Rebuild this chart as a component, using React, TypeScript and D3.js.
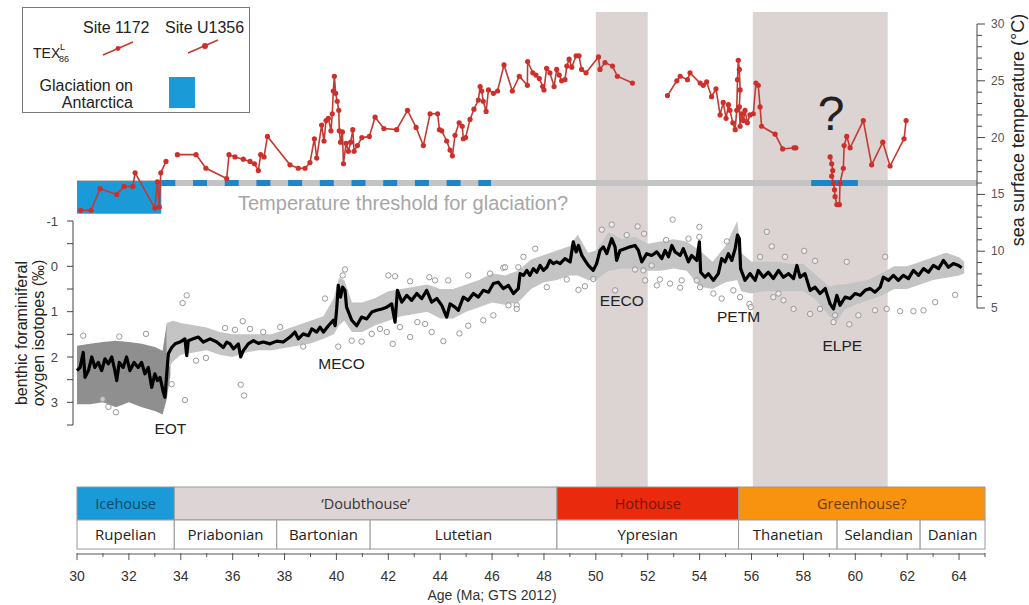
import React from 'react';
import * as d3 from 'd3';

const W = 1029;
const H = 605;
const FONT = '"Liberation Sans", Arial, sans-serif';

// ---- SST (TEX86 L) segments: [age Ma, °C]
const sstSeg1: [number, number][] = [
  [30.14, 13.6], [30.54, 13.6], [30.89, 15.5], [31.53, 15.0], [31.81, 15.7], [32.15, 15.7],
  [32.24, 16.9], [33.0, 13.8], [33.1, 16.1], [33.17, 13.9], [33.23, 16.9], [33.43, 17.9],
];
const sstSeg2: [number, number][] = [
  [33.87, 18.5], [34.59, 18.5], [34.97, 17.3], [35.77, 16.4], [35.86, 18.5], [36.09, 18.3],
  [36.41, 18.1], [36.67, 17.9], [36.84, 17.7], [36.99, 17.1], [37.08, 18.5], [37.21, 18.3],
  [37.34, 20.1], [38.21, 17.6], [38.53, 17.3], [38.79, 17.3], [38.98, 17.8], [39.15, 19.9],
  [39.24, 18.2], [39.43, 21.1], [39.52, 19.7], [39.6, 21.5], [39.69, 21.7], [39.79, 20.6],
  [39.84, 22.1], [39.88, 24.1], [39.92, 25.4], [39.97, 23.9], [40.03, 23.2], [40.09, 22.4],
  [40.11, 20.6], [40.16, 19.6], [40.23, 20.5], [40.27, 17.7], [40.37, 19.5], [40.46, 18.8],
  [40.55, 19.6], [40.63, 20.7], [40.68, 18.8], [40.81, 19.3], [40.98, 20.0], [41.27, 20.1],
  [41.49, 21.8], [41.83, 20.8], [42.32, 20.7], [42.74, 22.4], [43.07, 20.9], [43.35, 19.3],
  [43.61, 22.1], [43.9, 22.1], [43.97, 20.7], [44.06, 20.6], [44.25, 19.7], [44.38, 18.9],
  [44.47, 18.4], [44.57, 20.2], [44.73, 21.3], [44.85, 21.0], [44.89, 19.9], [44.98, 20.0],
  [45.15, 21.6], [45.3, 22.5], [45.47, 23.3], [45.54, 24.5], [45.6, 24.1], [45.66, 23.2],
  [45.77, 22.3], [45.86, 24.2], [46.05, 23.9], [46.21, 24.1], [46.46, 26.4], [46.78, 24.1],
  [47.05, 25.4], [47.36, 24.6], [47.37, 26.7], [47.57, 25.7], [47.69, 25.5], [47.82, 25.2],
  [47.95, 24.5], [48.0, 24.2], [48.1, 26.1], [48.23, 25.7], [48.39, 24.5], [48.49, 26.0],
  [48.59, 25.5], [48.68, 25.0], [48.81, 25.1], [48.88, 26.3], [48.97, 26.9], [49.07, 26.2],
  [49.24, 27.2], [49.35, 27.2], [49.45, 26.0], [49.62, 25.7], [50.1, 27.1], [50.16, 26.0],
  [50.35, 26.6], [50.64, 26.3], [50.83, 25.4], [51.41, 24.8],
];
const sstSeg3: [number, number][] = [
  [52.76, 23.7], [53.12, 25.0], [53.25, 25.4], [53.53, 25.1], [53.63, 25.7], [54.02, 24.8],
  [54.14, 24.6], [54.27, 24.9], [54.46, 23.6], [54.63, 24.3], [54.79, 22.0], [54.91, 23.1],
  [55.02, 21.7], [55.11, 22.9], [55.17, 22.4], [55.28, 21.3], [55.37, 20.7], [55.43, 22.4],
  [55.46, 25.1], [55.49, 26.8], [55.53, 26.0], [55.56, 24.2], [55.53, 22.7], [55.56, 21.0],
  [55.62, 22.1], [55.69, 21.5], [55.75, 22.4], [55.84, 21.3], [55.94, 22.0], [56.07, 22.1],
  [56.17, 24.8], [56.26, 24.6], [56.33, 22.7], [56.39, 21.0], [56.91, 20.3], [57.2, 19.0],
  [57.64, 19.1], [57.71, 19.1],
];
const sstSeg4: [number, number][] = [
  [59.03, 18.3], [59.09, 17.7], [59.13, 17.1], [59.09, 16.6], [59.16, 16.0], [59.2, 15.4],
  [59.22, 14.8], [59.29, 14.1], [59.39, 14.1], [59.41, 16.0], [59.54, 17.3], [59.57, 19.3],
  [59.67, 20.1], [59.8, 19.1], [60.31, 21.5], [60.63, 17.6], [61.06, 19.6], [61.34, 17.5],
  [61.88, 19.9], [61.96, 21.5],
];

// ---- benthic d18O smoothed record: [age, ‰]
const d18oLine: [number, number][] = [
  [30.0, 2.3], [30.12, 2.23], [30.24, 1.9], [30.31, 2.45], [30.44, 2.3], [30.57, 2.0], [30.69, 2.23],
  [30.82, 2.12], [30.95, 2.3], [31.08, 2.04], [31.21, 2.15], [31.34, 2.0], [31.46, 2.3], [31.53, 2.52],
  [31.63, 2.12], [31.78, 2.23], [31.91, 2.0], [32.04, 2.3], [32.2, 2.12], [32.36, 2.23], [32.49, 2.12],
  [32.62, 2.37], [32.75, 2.23], [32.88, 2.67], [33.0, 2.37], [33.1, 2.52], [33.2, 2.45], [33.33, 2.78],
  [33.39, 2.89], [33.46, 2.37], [33.52, 1.93], [33.65, 1.79], [33.78, 1.71], [33.97, 1.67], [34.16, 1.6],
  [34.23, 1.97], [34.29, 1.64], [34.48, 1.6], [34.68, 1.56], [34.87, 1.67], [35.13, 1.6], [35.39, 1.67],
  [35.64, 1.79], [35.77, 1.67], [35.9, 1.71], [36.03, 1.82], [36.22, 1.71], [36.31, 2.0], [36.41, 1.86],
  [36.6, 1.71], [36.8, 1.64], [36.99, 1.7], [37.18, 1.67], [37.44, 1.71], [37.7, 1.65], [37.95, 1.67],
  [38.21, 1.56], [38.4, 1.45], [38.53, 1.6], [38.72, 1.49], [38.92, 1.53], [39.05, 1.38], [39.24, 1.45],
  [39.37, 1.34], [39.5, 1.45], [39.69, 1.31], [39.88, 1.19], [39.95, 1.31], [40.01, 0.94], [40.07, 0.42],
  [40.16, 0.68], [40.24, 0.46], [40.33, 0.53], [40.39, 0.9], [40.59, 1.19], [40.78, 1.31], [40.97, 1.12],
  [41.17, 1.16], [41.36, 1.01], [41.55, 0.97], [41.75, 0.94], [41.94, 0.9], [42.13, 0.83], [42.26, 1.23],
  [42.35, 0.53], [42.52, 0.79], [42.71, 0.64], [42.9, 0.75], [43.1, 0.6], [43.29, 0.71], [43.48, 0.53],
  [43.67, 0.79], [43.87, 0.71], [44.06, 0.86], [44.25, 1.12], [44.38, 0.83], [44.57, 0.9], [44.7, 0.97],
  [44.89, 0.68], [45.08, 0.75], [45.28, 0.6], [45.47, 0.68], [45.66, 0.53], [45.86, 0.57], [46.05, 0.38],
  [46.24, 0.35], [46.43, 0.49], [46.63, 0.42], [46.82, 0.6], [47.01, 0.49], [47.08, 0.16], [47.21, 0.2],
  [47.34, 0.09], [47.46, 0.2], [47.59, 0.05], [47.72, 0.13], [47.85, -0.02], [47.98, 0.09], [48.11, 0.02],
  [48.23, -0.13], [48.36, -0.06], [48.49, -0.1], [48.62, -0.06], [48.81, -0.17], [49.01, -0.1],
  [49.13, -0.54], [49.24, -0.32], [49.33, -0.46], [49.46, -0.24], [49.58, -0.13], [49.71, -0.02],
  [49.9, 0.09], [50.03, -0.06], [50.16, -0.35], [50.29, -0.43], [50.42, -0.28], [50.61, -0.61],
  [50.74, -0.43], [50.8, -0.13], [50.93, -0.35], [51.12, -0.39], [51.32, -0.43], [51.51, -0.46],
  [51.64, -0.35], [51.77, -0.1], [51.96, -0.28], [52.15, -0.24], [52.35, -0.32], [52.54, -0.17],
  [52.67, -0.35], [52.8, -0.21], [52.93, -0.46], [53.05, -0.32], [53.25, -0.24], [53.37, -0.39],
  [53.57, -0.1], [53.69, -0.24], [53.89, -0.13], [53.99, -0.54], [54.04, 0.13], [54.21, 0.24],
  [54.34, 0.16], [54.53, 0.31], [54.72, 0.16], [54.85, -0.17], [54.98, -0.1], [55.11, -0.28],
  [55.24, -0.13], [55.37, -0.39], [55.46, -0.69], [55.53, -0.61], [55.58, 0.05], [55.75, 0.31],
  [55.94, 0.16], [56.14, 0.31], [56.26, 0.09], [56.46, 0.24], [56.65, 0.13], [56.84, 0.27], [57.04, 0.09],
  [57.23, 0.24], [57.43, 0.16], [57.62, 0.27], [57.75, -0.02], [57.87, 0.24], [58.06, 0.16], [58.26, 0.53],
  [58.45, 0.46], [58.64, 0.6], [58.84, 0.49], [59.03, 0.83], [59.16, 0.94], [59.29, 0.64], [59.41, 0.86],
  [59.61, 0.68], [59.8, 0.71], [59.99, 0.6], [60.19, 0.64], [60.38, 0.53], [60.57, 0.49], [60.76, 0.57],
  [60.96, 0.46], [61.08, 0.24], [61.28, 0.31], [61.47, 0.2], [61.66, 0.31], [61.85, 0.2], [62.05, 0.27],
  [62.24, 0.09], [62.44, 0.2], [62.63, 0.05], [62.82, 0.13], [63.01, -0.02], [63.21, 0.05], [63.4, -0.13],
  [63.59, 0.02], [63.78, -0.06], [63.98, -0.02], [64.1, 0.03],
];

// dense raw-data cloud in the Oligocene: [age, top ‰, bottom ‰]
const d18oCloudDense: [number, number, number][] = [
  [30.0, 1.75, 3.04], [30.5, 1.71, 3.04], [31.0, 1.67, 3.0], [31.5, 1.64, 3.11], [32.0, 1.67, 3.0],
  [32.5, 1.71, 3.11], [33.0, 1.78, 3.19], [33.3, 1.86, 3.27], [33.45, 1.3, 2.95], [33.6, 1.25, 2.4],
];
// spread of raw data around the smoothed record: [age, top ‰, bottom ‰]
const d18oCloud: [number, number, number][] = [
  [33.45, 1.25, 2.3], [33.7, 1.2, 2.1], [34.0, 1.25, 1.95], [34.5, 1.3, 1.9], [35.0, 1.35, 1.85],
  [35.5, 1.45, 1.95], [36.0, 1.5, 2.0], [36.5, 1.5, 1.9], [37.0, 1.5, 1.85], [37.5, 1.5, 1.85],
  [38.0, 1.4, 1.8], [38.5, 1.3, 1.75], [39.0, 1.2, 1.7], [39.5, 1.1, 1.6], [39.9, 0.7, 1.5],
  [40.1, 0.25, 1.3], [40.3, 0.3, 1.2], [40.6, 0.8, 1.45], [41.0, 0.8, 1.45], [41.5, 0.7, 1.3],
  [42.0, 0.55, 1.2], [42.5, 0.5, 1.1], [43.0, 0.45, 1.05], [43.5, 0.4, 1.0], [44.0, 0.5, 1.15],
  [44.5, 0.5, 1.15], [45.0, 0.4, 1.0], [45.5, 0.3, 0.9], [46.0, 0.15, 0.8], [46.5, 0.2, 0.85],
  [47.0, 0.1, 0.8], [47.5, -0.15, 0.5], [48.0, -0.25, 0.35], [48.5, -0.35, 0.3], [49.0, -0.45, 0.2],
  [49.3, -0.7, 0.2], [49.7, -0.3, 0.3], [50.0, -0.35, 0.3], [50.5, -0.75, 0.1], [51.0, -0.6, 0.05],
  [51.5, -0.65, 0.05], [52.0, -0.5, 0.1], [52.5, -0.55, 0.1], [53.0, -0.6, 0.05], [53.5, -0.55, 0.1],
  [54.0, -0.35, 0.45], [54.5, -0.1, 0.5], [55.0, -0.45, 0.35], [55.45, -1.0, 0.3], [55.6, -0.3, 0.55],
  [56.0, -0.1, 0.6], [56.5, -0.1, 0.55], [57.0, -0.1, 0.55], [57.5, -0.05, 0.55], [58.0, -0.05, 0.55],
  [58.5, 0.2, 0.75], [59.0, 0.45, 1.1], [59.3, 0.4, 1.2], [59.6, 0.4, 0.95], [60.0, 0.35, 0.85],
  [60.5, 0.3, 0.75], [61.0, 0.15, 0.65], [61.5, 0.0, 0.5], [62.0, 0.0, 0.5], [62.5, -0.1, 0.4],
  [63.0, -0.2, 0.3], [63.5, -0.3, 0.25], [64.0, -0.2, 0.2], [64.2, -0.1, 0.15],
];
// scattered individual raw measurements: [age, ‰]
const d18oOutliers: [number, number][] = [
  [30.24, 1.53], [31.63, 1.55], [32.66, 1.49], [34.23, 0.64], [34.07, 0.81], [36.39, 1.21], [36.31, 2.61],
  [36.44, 2.85], [34.16, 2.95], [33.65, 2.6], [31.5, 3.22], [30.99, 2.93], [31.21, 3.1], [34.97, 2.02],
  [34.59, 2.08], [35.71, 1.36], [36.09, 1.4], [36.67, 1.38], [37.18, 1.45], [37.83, 1.34], [38.72, 1.77],
  [39.56, 0.71], [40.33, 0.07], [40.24, 0.2], [40.07, 1.77], [40.59, 1.64], [40.97, 1.66], [42.0, 0.2],
  [42.26, 0.22], [42.84, 0.33], [43.58, 0.24], [43.8, 0.31], [44.31, 0.31], [45.08, 0.2], [45.92, 0.16],
  [46.43, 0.03], [47.01, 0.02], [42.17, 1.71], [42.84, 1.56], [43.42, 1.27], [43.67, 1.45], [44.12, 1.65],
  [44.74, 1.48], [45.08, 1.31], [45.66, 1.19], [46.05, 1.08], [46.95, 0.86], [46.63, 0.86], [42.45, 1.34],
  [43.12, 1.23], [41.36, 1.49], [41.68, 1.38], [41.94, 1.45], [46.5, 0.02], [46.95, 0.94], [47.66, -0.39],
  [47.21, -0.21], [48.11, 0.46], [48.88, 0.29], [49.33, 0.52], [49.58, 0.44], [49.9, 0.28], [50.61, -0.92],
  [50.23, -0.81], [50.74, 0.53], [51.61, -0.88], [51.19, -0.69], [51.86, -0.72], [51.51, 0.07], [51.9, 0.31],
  [52.96, -1.03], [52.71, -0.58], [52.47, 0.29], [52.86, 0.38], [53.25, 0.47], [53.57, -0.61], [53.99, -0.87],
  [53.99, -0.65], [53.89, 0.31], [54.53, 0.6], [54.85, 0.71], [55.05, -0.55], [55.92, 0.83], [55.97, 0.9],
  [56.59, -0.76], [56.78, -0.44], [56.33, -0.21], [57.29, -0.21], [58.03, -0.34], [58.45, -0.12],
  [59.67, -0.1], [61.15, -0.21], [58.26, 1.05], [59.16, 1.23], [59.77, 1.28], [60.12, 1.08], [60.76, 0.97],
  [61.21, 0.94], [61.73, 0.99], [62.24, 0.99], [62.63, 0.97], [63.08, 0.79], [63.85, 0.63], [57.62, 0.94],
  [57.23, 0.75], [57.04, 0.6], [55.3, 0.53], [55.56, 0.68], [56.84, 0.68], [58.64, 0.94], [59.22, 1.08],
  [52.35, 0.42], [52.15, -0.02], [51.83, 0.09], [54.02, 0.46], [53.31, 0.31],
];

// ---- intervals
const shadedIntervals: [number, number][] = [[50.0, 52.0], [56.05, 61.25]];
const glaciationBox = { start: 30, end: 33.25, top: 16, bottom: 13.3 };
const glaciationDashed: [number, number] = [33.25, 45.96];
const glaciationSolid: [number, number] = [58.3, 60.1];
const thresholdTemp = 16;

const climateStates = [
  { name: 'Icehouse', start: 30, end: 33.75, fill: '#1a9ad7', text: '#0d4a6e' },
  { name: '\u2018Doubthouse\u2019', start: 33.75, end: 48.5, fill: '#ddd5d5', text: '#333' },
  { name: 'Hothouse', start: 48.5, end: 55.5, fill: '#ea2a0c', text: '#7a1405' },
  { name: 'Greenhouse?', start: 55.5, end: 65, fill: '#f7930f', text: '#6e3a05' },
];
const stages = [
  { name: 'Rupelian', start: 30, end: 33.75 },
  { name: 'Priabonian', start: 33.75, end: 37.7 },
  { name: 'Bartonian', start: 37.7, end: 41.3 },
  { name: 'Lutetian', start: 41.3, end: 48.5 },
  { name: 'Ypresian', start: 48.5, end: 55.5 },
  { name: 'Thanetian', start: 55.5, end: 59.3 },
  { name: 'Selandian', start: 59.3, end: 62.5 },
  { name: 'Danian', start: 62.5, end: 65 },
];
const events = [
  { name: 'EOT', age: 33.6, d: 3.7 },
  { name: 'MECO', age: 40.2, d: 2.27 },
  { name: 'EECO', age: 51.0, d: 0.88 },
  { name: 'PETM', age: 55.5, d: 1.22 },
  { name: 'ELPE', age: 59.5, d: 1.87 },
];
const ageTicks = d3.range(30, 65, 2);
const ageMinor = d3.range(31, 66, 2);
const d18oTicks = [-1, 0, 1, 2, 3];
const d18oMinor = d3.range(-1, 3.51, 0.5);
const sstTicks = [5, 10, 15, 20, 25, 30];
const sstMinor = d3.range(5, 31, 1);

export default function App() {
  const x = d3.scaleLinear().domain([30, 65]).range([77, 985]);
  const yT = d3.scaleLinear().domain([5, 30]).range([308, 24]);
  const yO = d3.scaleLinear().domain([-1, 3.5]).range([221, 425]);

  const sstLine = d3.line<[number, number]>().x(d => x(d[0])).y(d => yT(d[1]));
  const oLine = d3.line<[number, number]>().x(d => x(d[0])).y(d => yO(d[1]));
  const oArea = d3.area<[number, number, number]>().x(d => x(d[0])).y0(d => yO(d[2])).y1(d => yO(d[1]));

  const tsTop = 487, tsMid = 520, tsBot = 549, axisY = 554;
  const yThr = yT(thresholdTemp);

  return (
    <svg width={W} height={H} style={{ position: 'absolute', left: 0, top: 0, fontFamily: FONT }}>
      <rect x={0} y={0} width={W} height={H} fill="#fff" />
      {/* shaded event intervals */}
      {shadedIntervals.map((s, i) => (
        <rect key={i} x={x(s[0])} y={12} width={x(s[1]) - x(s[0])} height={tsTop - 12} fill="#dcd3d3" />
      ))}

      {/* threshold line + glaciation */}
      <line x1={x(30)} x2={977} y1={yThr} y2={yThr} stroke="#c4c4c4" strokeWidth={6} />
      <rect x={x(glaciationBox.start)} y={yT(glaciationBox.top) - 2} width={x(glaciationBox.end) - x(glaciationBox.start)}
        height={yT(glaciationBox.bottom) - yT(glaciationBox.top) + 2} fill="#1a9bd7" />
      <line x1={x(glaciationDashed[0])} x2={x(glaciationDashed[1])} y1={yThr} y2={yThr} stroke="#2085c6" strokeWidth={6}
        strokeDasharray="14 17.7" />
      <line x1={x(glaciationSolid[0])} x2={x(glaciationSolid[1])} y1={yThr} y2={yThr} stroke="#2085c6" strokeWidth={6} />
      <text x={238} y={210} fontSize={20} fill="#a6a6a6">Temperature threshold for glaciation?</text>

      {/* SST */}
      {[sstSeg1, sstSeg2, sstSeg3, sstSeg4].map((seg, i) => (
        <g key={i}>
          <path d={sstLine(seg) || ''} fill="none" stroke="#c23b33" strokeWidth={1.6} />
          {seg.map((p, j) => <circle key={j} cx={x(p[0])} cy={yT(p[1])} r={2.6} fill="#cf2f2a" />)}
        </g>
      ))}
      <text x={831} y={130} fontSize={48} textAnchor="middle" fill="#222">?</text>

      {/* d18O */}
      <path d={oArea(d18oCloudDense) || ''} fill="#8f8f8f" />
      <path d={oArea(d18oCloud) || ''} fill="#c4c4c4" />
      {d18oOutliers.map((p, i) => (
        <circle key={i} cx={x(p[0])} cy={yO(p[1])} r={2.7} fill="#fff" fillOpacity={0.5} stroke="#999" strokeWidth={1} />
      ))}
      <path d={oLine(d18oLine) || ''} fill="none" stroke="#000" strokeWidth={3.2} strokeLinejoin="round" />
      {events.map(e => (
        <text key={e.name} x={x(e.age)} y={yO(e.d)} fontSize={15.5} textAnchor="middle" fill="#222">{e.name}</text>
      ))}

      {/* left axis */}
      <line x1={73} x2={73} y1={yO(-1)} y2={yO(3.5)} stroke="#444" />
      {d18oMinor.map(v => <line key={v} x1={67} x2={73} y1={yO(v)} y2={yO(v)} stroke="#444" />)}
      {d18oTicks.map(v => (
        <text key={v} x={58} y={yO(v) + 4.5} fontSize={13} textAnchor="end" fill="#444">{v}</text>
      ))}
      <text transform={`translate(27,333) rotate(-90)`} fontSize={16} textAnchor="middle" fill="#222">benthic foraminiferal</text>
      <text transform={`translate(44,333) rotate(-90)`} fontSize={16} textAnchor="middle" fill="#222">oxygen isotopes (‰)</text>

      {/* right axis */}
      <line x1={977} x2={977} y1={yT(30)} y2={yT(5)} stroke="#444" />
      {sstMinor.map(v => (
        <line key={v} x1={977} x2={977 + (v % 5 === 0 ? 8 : 5)} y1={yT(v)} y2={yT(v)} stroke="#444" />
      ))}
      {sstTicks.map(v => (
        <text key={v} x={991} y={yT(v) + 4} fontSize={12} fill="#555">{v}</text>
      ))}
      <text transform={`translate(1024,130) rotate(-90)`} fontSize={18} textAnchor="middle" fill="#222">sea surface temperature (°C)</text>

      {/* timescale */}
      {climateStates.map(c => (
        <g key={c.name}>
          <rect x={x(c.start)} y={tsTop} width={x(c.end) - x(c.start)} height={tsMid - tsTop} fill={c.fill} stroke="#999" />
          <text x={(x(c.start) + x(c.end)) / 2} y={tsMid - 11} fontSize={14.5} textAnchor="middle" fill={c.text}
            fontFamily='"Open Sans", sans-serif'>{c.name}</text>
        </g>
      ))}
      {stages.map(s => (
        <g key={s.name}>
          <rect x={x(s.start)} y={tsMid} width={x(s.end) - x(s.start)} height={tsBot - tsMid} fill="#fff" stroke="#999" />
          <text x={(x(s.start) + x(s.end)) / 2} y={tsBot - 9} fontSize={15} textAnchor="middle" fill="#222"
            fontFamily='"Open Sans", sans-serif'>{s.name}</text>
        </g>
      ))}

      {/* x axis */}
      <line x1={x(30)} x2={x(65)} y1={axisY} y2={axisY} stroke="#555" />
      {ageTicks.map(v => <line key={v} x1={x(v)} x2={x(v)} y1={axisY - 1} y2={axisY + 6} stroke="#555" />)}
      {ageMinor.map(v => <line key={v} x1={x(v)} x2={x(v)} y1={axisY - 1} y2={axisY + 3} stroke="#555" />)}
      {ageTicks.map(v => (
        <text key={v} x={x(v)} y={581} fontSize={14} textAnchor="middle" fill="#333">{v}</text>
      ))}
      <text x={492} y={600} fontSize={14} textAnchor="middle" fill="#333">Age (Ma; GTS 2012)</text>

      {/* legend */}
      <rect x={22.5} y={7.5} width={227} height={105} fill="#fff" stroke="#777" />
      <text x={83} y={33} fontSize={16} fill="#222">Site 1172</text>
      <text x={165} y={33} fontSize={16} fill="#222">Site U1356</text>
      <text x={33} y={58} fontSize={14} fill="#222">TEX</text>
      <text x={60} y={50} fontSize={9} fill="#222">L</text>
      <text x={59} y={62} fontSize={9} fill="#222">86</text>
      <line x1={103} y1={55} x2={133} y2={42} stroke="#c23b33" strokeWidth={1.6} />
      <circle cx={118} cy={48.5} r={2.4} fill="#cf2f2a" />
      <line x1={188} y1={53} x2={218} y2={40} stroke="#c23b33" strokeWidth={1.6} />
      <circle cx={205} cy={46} r={3} fill="#cf2f2a" />
      <text x={133} y={91} fontSize={16} textAnchor="end" fill="#222">Glaciation on</text>
      <text x={133} y={108} fontSize={16} textAnchor="end" fill="#222">Antarctica</text>
      <rect x={169} y={77} width={26} height={31} fill="#1a9bd7" />
    </svg>
  );
}
